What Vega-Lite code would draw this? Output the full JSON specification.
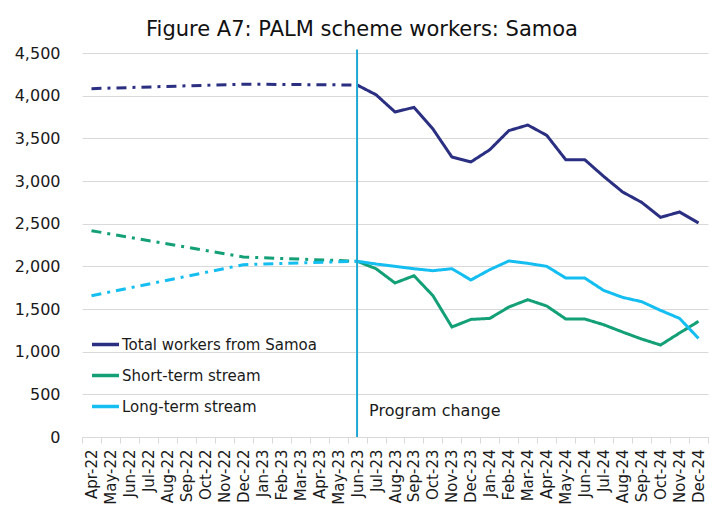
{
  "$schema": "https://vega.github.io/schema/vega-lite/v6.json",
  "autosize": {"type": "none"},
  "padding": {"left": 82, "top": 53, "right": 5, "bottom": 82},
  "width": 626,
  "height": 384,
  "background": "white",
  "title": {
    "text": "Figure A7: PALM scheme workers: Samoa",
    "font": "DejaVu Sans",
    "fontSize": 21,
    "fontWeight": "normal",
    "color": "#111111",
    "anchor": "middle",
    "dx": -33,
    "offset": 5
  },
  "config": {
    "view": {"stroke": null},
    "font": "DejaVu Sans"
  },
  "datasets": {
    "workers": [
      {"month": "Apr-22", "series": " Total workers from Samoa", "phase": "pre", "value": 4082},
      {"month": "Dec-22", "series": " Total workers from Samoa", "phase": "pre", "value": 4135},
      {"month": "Jun-23", "series": " Total workers from Samoa", "phase": "pre", "value": 4125},
      {"month": "Apr-22", "series": "Short-term stream", "phase": "pre", "value": 2418},
      {"month": "Dec-22", "series": "Short-term stream", "phase": "pre", "value": 2109},
      {"month": "Jun-23", "series": "Short-term stream", "phase": "pre", "value": 2060},
      {"month": "Apr-22", "series": "Long-term stream", "phase": "pre", "value": 1656},
      {"month": "Dec-22", "series": "Long-term stream", "phase": "pre", "value": 2019},
      {"month": "Jun-23", "series": "Long-term stream", "phase": "pre", "value": 2060},

      {"month": "Jun-23", "series": " Total workers from Samoa", "phase": "post", "value": 4125},
      {"month": "Jul-23", "series": " Total workers from Samoa", "phase": "post", "value": 4011},
      {"month": "Aug-23", "series": " Total workers from Samoa", "phase": "post", "value": 3809},
      {"month": "Sep-23", "series": " Total workers from Samoa", "phase": "post", "value": 3863},
      {"month": "Oct-23", "series": " Total workers from Samoa", "phase": "post", "value": 3609},
      {"month": "Nov-23", "series": " Total workers from Samoa", "phase": "post", "value": 3281},
      {"month": "Dec-23", "series": " Total workers from Samoa", "phase": "post", "value": 3223},
      {"month": "Jan-24", "series": " Total workers from Samoa", "phase": "post", "value": 3367},
      {"month": "Feb-24", "series": " Total workers from Samoa", "phase": "post", "value": 3590},
      {"month": "Mar-24", "series": " Total workers from Samoa", "phase": "post", "value": 3656},
      {"month": "Apr-24", "series": " Total workers from Samoa", "phase": "post", "value": 3535},
      {"month": "May-24", "series": " Total workers from Samoa", "phase": "post", "value": 3250},
      {"month": "Jun-24", "series": " Total workers from Samoa", "phase": "post", "value": 3250},
      {"month": "Jul-24", "series": " Total workers from Samoa", "phase": "post", "value": 3054},
      {"month": "Aug-24", "series": " Total workers from Samoa", "phase": "post", "value": 2871},
      {"month": "Sep-24", "series": " Total workers from Samoa", "phase": "post", "value": 2750},
      {"month": "Oct-24", "series": " Total workers from Samoa", "phase": "post", "value": 2574},
      {"month": "Nov-24", "series": " Total workers from Samoa", "phase": "post", "value": 2637},
      {"month": "Dec-24", "series": " Total workers from Samoa", "phase": "post", "value": 2508},

      {"month": "Jun-23", "series": "Short-term stream", "phase": "post", "value": 2060},
      {"month": "Jul-23", "series": "Short-term stream", "phase": "post", "value": 1972},
      {"month": "Aug-23", "series": "Short-term stream", "phase": "post", "value": 1805},
      {"month": "Sep-23", "series": "Short-term stream", "phase": "post", "value": 1890},
      {"month": "Oct-23", "series": "Short-term stream", "phase": "post", "value": 1656},
      {"month": "Nov-23", "series": "Short-term stream", "phase": "post", "value": 1289},
      {"month": "Dec-23", "series": "Short-term stream", "phase": "post", "value": 1378},
      {"month": "Jan-24", "series": "Short-term stream", "phase": "post", "value": 1390},
      {"month": "Feb-24", "series": "Short-term stream", "phase": "post", "value": 1523},
      {"month": "Mar-24", "series": "Short-term stream", "phase": "post", "value": 1609},
      {"month": "Apr-24", "series": "Short-term stream", "phase": "post", "value": 1535},
      {"month": "May-24", "series": "Short-term stream", "phase": "post", "value": 1383},
      {"month": "Jun-24", "series": "Short-term stream", "phase": "post", "value": 1383},
      {"month": "Jul-24", "series": "Short-term stream", "phase": "post", "value": 1316},
      {"month": "Aug-24", "series": "Short-term stream", "phase": "post", "value": 1230},
      {"month": "Sep-24", "series": "Short-term stream", "phase": "post", "value": 1148},
      {"month": "Oct-24", "series": "Short-term stream", "phase": "post", "value": 1078},
      {"month": "Nov-24", "series": "Short-term stream", "phase": "post", "value": 1219},
      {"month": "Dec-24", "series": "Short-term stream", "phase": "post", "value": 1355},

      {"month": "Jun-23", "series": "Long-term stream", "phase": "post", "value": 2060},
      {"month": "Jul-23", "series": "Long-term stream", "phase": "post", "value": 2027},
      {"month": "Aug-23", "series": "Long-term stream", "phase": "post", "value": 2000},
      {"month": "Sep-23", "series": "Long-term stream", "phase": "post", "value": 1972},
      {"month": "Oct-23", "series": "Long-term stream", "phase": "post", "value": 1949},
      {"month": "Nov-23", "series": "Long-term stream", "phase": "post", "value": 1972},
      {"month": "Dec-23", "series": "Long-term stream", "phase": "post", "value": 1840},
      {"month": "Jan-24", "series": "Long-term stream", "phase": "post", "value": 1961},
      {"month": "Feb-24", "series": "Long-term stream", "phase": "post", "value": 2063},
      {"month": "Mar-24", "series": "Long-term stream", "phase": "post", "value": 2035},
      {"month": "Apr-24", "series": "Long-term stream", "phase": "post", "value": 2000},
      {"month": "May-24", "series": "Long-term stream", "phase": "post", "value": 1863},
      {"month": "Jun-24", "series": "Long-term stream", "phase": "post", "value": 1863},
      {"month": "Jul-24", "series": "Long-term stream", "phase": "post", "value": 1718},
      {"month": "Aug-24", "series": "Long-term stream", "phase": "post", "value": 1636},
      {"month": "Sep-24", "series": "Long-term stream", "phase": "post", "value": 1586},
      {"month": "Oct-24", "series": "Long-term stream", "phase": "post", "value": 1484},
      {"month": "Nov-24", "series": "Long-term stream", "phase": "post", "value": 1390},
      {"month": "Dec-24", "series": "Long-term stream", "phase": "post", "value": 1156}
    ],
    "annotations": [{"month": "Jun-23", "top": 4540, "bottom": 0, "labelY": 300, "label": "Program change"}]
  },
  "layer": [
    {
      "data": {"name": "workers"},
      "mark": {"type": "line", "strokeWidth": 3},
      "encoding": {
        "x": {
          "field": "month",
          "type": "ordinal",
          "scale": {
            "domain": ["Apr-22","May-22","Jun-22","Jul-22","Aug-22","Sep-22","Oct-22","Nov-22","Dec-22","Jan-23","Feb-23","Mar-23","Apr-23","May-23","Jun-23","Jul-23","Aug-23","Sep-23","Oct-23","Nov-23","Dec-23","Jan-24","Feb-24","Mar-24","Apr-24","May-24","Jun-24","Jul-24","Aug-24","Sep-24","Oct-24","Nov-24","Dec-24"],
            "type": "band",
            "paddingInner": 0,
            "paddingOuter": 0
          },
          "axis": {
            "title": null,
            "labelAngle": -90,
            "labelAlign": "right",
            "labelBaseline": "middle",
            "labelFontSize": 15,
            "labelColor": "#1a1a1a",
            "labelPadding": 6,
            "tickBand": "extent",
            "ticks": true,
            "tickSize": 6,
            "tickColor": "#d9d9d9",
            "domainColor": "#d9d9d9",
            "grid": false,
            "labelOverlap": false
          }
        },
        "y": {
          "field": "value",
          "type": "quantitative",
          "scale": {"domain": [0, 4500], "nice": false},
          "axis": {
            "title": null,
            "values": [0,500,1000,1500,2000,2500,3000,3500,4000,4500],
            "format": ",.0f",
            "labelFontSize": 16,
            "labelColor": "#1a1a1a",
            "labelPadding": 22,
            "ticks": false,
            "domain": false,
            "grid": true,
            "gridColor": "#d9d9d9",
            "gridWidth": 1
          }
        },
        "color": {
          "field": "series",
          "type": "nominal",
          "scale": {
            "domain": [" Total workers from Samoa", "Short-term stream", "Long-term stream"],
            "range": ["#2B2F82", "#13A077", "#14BEF0"]
          },
          "legend": {
            "title": null,
            "orient": "none",
            "legendX": 8,
            "legendY": 276,
            "symbolType": "stroke",
            "symbolSize": 729,
            "symbolStrokeWidth": 3.5,
            "labelFontSize": 15,
            "labelLimit": 400,
            "labelColor": "#1a1a1a",
            "labelOffset": 1,
            "rowPadding": 7,
            "padding": 0
          }
        },
        "strokeDash": {
          "field": "phase",
          "type": "nominal",
          "scale": {"domain": ["pre", "post"], "range": [[10, 6, 3, 6], [1, 0]]},
          "legend": null
        }
      }
    },
    {
      "data": {"name": "annotations"},
      "mark": {"type": "rule", "color": "#1FA7D4", "strokeWidth": 2, "clip": false},
      "encoding": {
        "x": {"field": "month", "type": "ordinal"},
        "y": {"field": "top", "type": "quantitative"},
        "y2": {"field": "bottom"}
      }
    },
    {
      "data": {"name": "annotations"},
      "mark": {"type": "text", "align": "left", "baseline": "middle", "dx": 12, "fontSize": 16, "color": "#1a1a1a"},
      "encoding": {
        "text": {"field": "label", "type": "nominal"},
        "x": {"field": "month", "type": "ordinal"},
        "y": {"field": "labelY", "type": "quantitative"}
      }
    }
  ]
}
